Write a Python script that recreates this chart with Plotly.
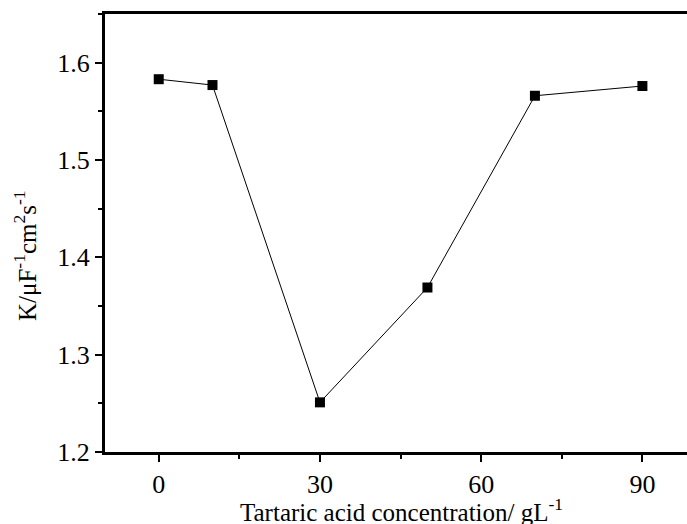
import plotly.graph_objects as go

concentration = [0, 10, 30, 50, 70, 90]
k_values = [1.583, 1.577, 1.251, 1.369, 1.566, 1.576]
x_ticks = [0, 30, 60, 90]
y_ticks = [1.2, 1.3, 1.4, 1.5, 1.6]

font_family = "Liberation Serif"

fig = go.Figure()
fig.add_trace(go.Scatter(
    x=concentration, y=k_values, mode="lines+markers",
    line=dict(color="black", width=1),
    marker=dict(symbol="square", size=10, color="black"),
    showlegend=False, cliponaxis=False,
))

L, T, B, W, H = 105, 14, 72, 687, 524
pw = W - L
ph = H - T - B

fig.update_layout(
    width=W, height=H,
    margin=dict(l=L, r=0, t=T, b=B),
    paper_bgcolor="white", plot_bgcolor="white",
    font=dict(family=font_family, size=25, color="black"),
    xaxis=dict(
        range=[-10, 98.3], tickvals=x_ticks, ticktext=[str(v) for v in x_ticks],
        showline=True, linecolor="black", linewidth=3, mirror=True,
        ticks="outside", ticklen=7, tickwidth=2, tickcolor="black",
        minor=dict(dtick=15, tick0=0, ticks="outside", ticklen=4, tickwidth=2, tickcolor="black"),
        showgrid=False, zeroline=False,
        tickfont=dict(family=font_family, size=26),
    ),
    yaxis=dict(
        range=[1.2, 1.65], tickvals=y_ticks, ticktext=[f"{v:.1f}" for v in y_ticks],
        showline=True, linecolor="black", linewidth=3, mirror=False,
        ticks="outside", ticklen=7, tickwidth=2, tickcolor="black",
        minor=dict(dtick=0.05, tick0=1.2, ticks="outside", ticklen=4, tickwidth=2, tickcolor="black"),
        showgrid=False, zeroline=False,
        tickfont=dict(family=font_family, size=26),
    ),
    annotations=[
        dict(text="Tartaric acid concentration/ gL<sup>-1</sup>",
             xref="paper", yref="paper", x=(401 - L) / pw, y=-(510 - (H - B)) / ph,
             xanchor="center", yanchor="middle", showarrow=False,
             font=dict(family=font_family, size=25, color="black")),
        dict(text="K/μF<sup>-1</sup>cm<sup>2</sup>s<sup>-1</sup>",
             xref="paper", yref="paper", x=(25 - L) / pw, y=((H - B) - 256) / ph,
             xanchor="center", yanchor="middle", textangle=-90, showarrow=False,
             font=dict(family=font_family, size=25, color="black")),
    ],
)

fig.write_html("out.html", config={"displayModeBar": False},
               post_script="document.body.style.margin='0';document.body.style.overflow='hidden';")
